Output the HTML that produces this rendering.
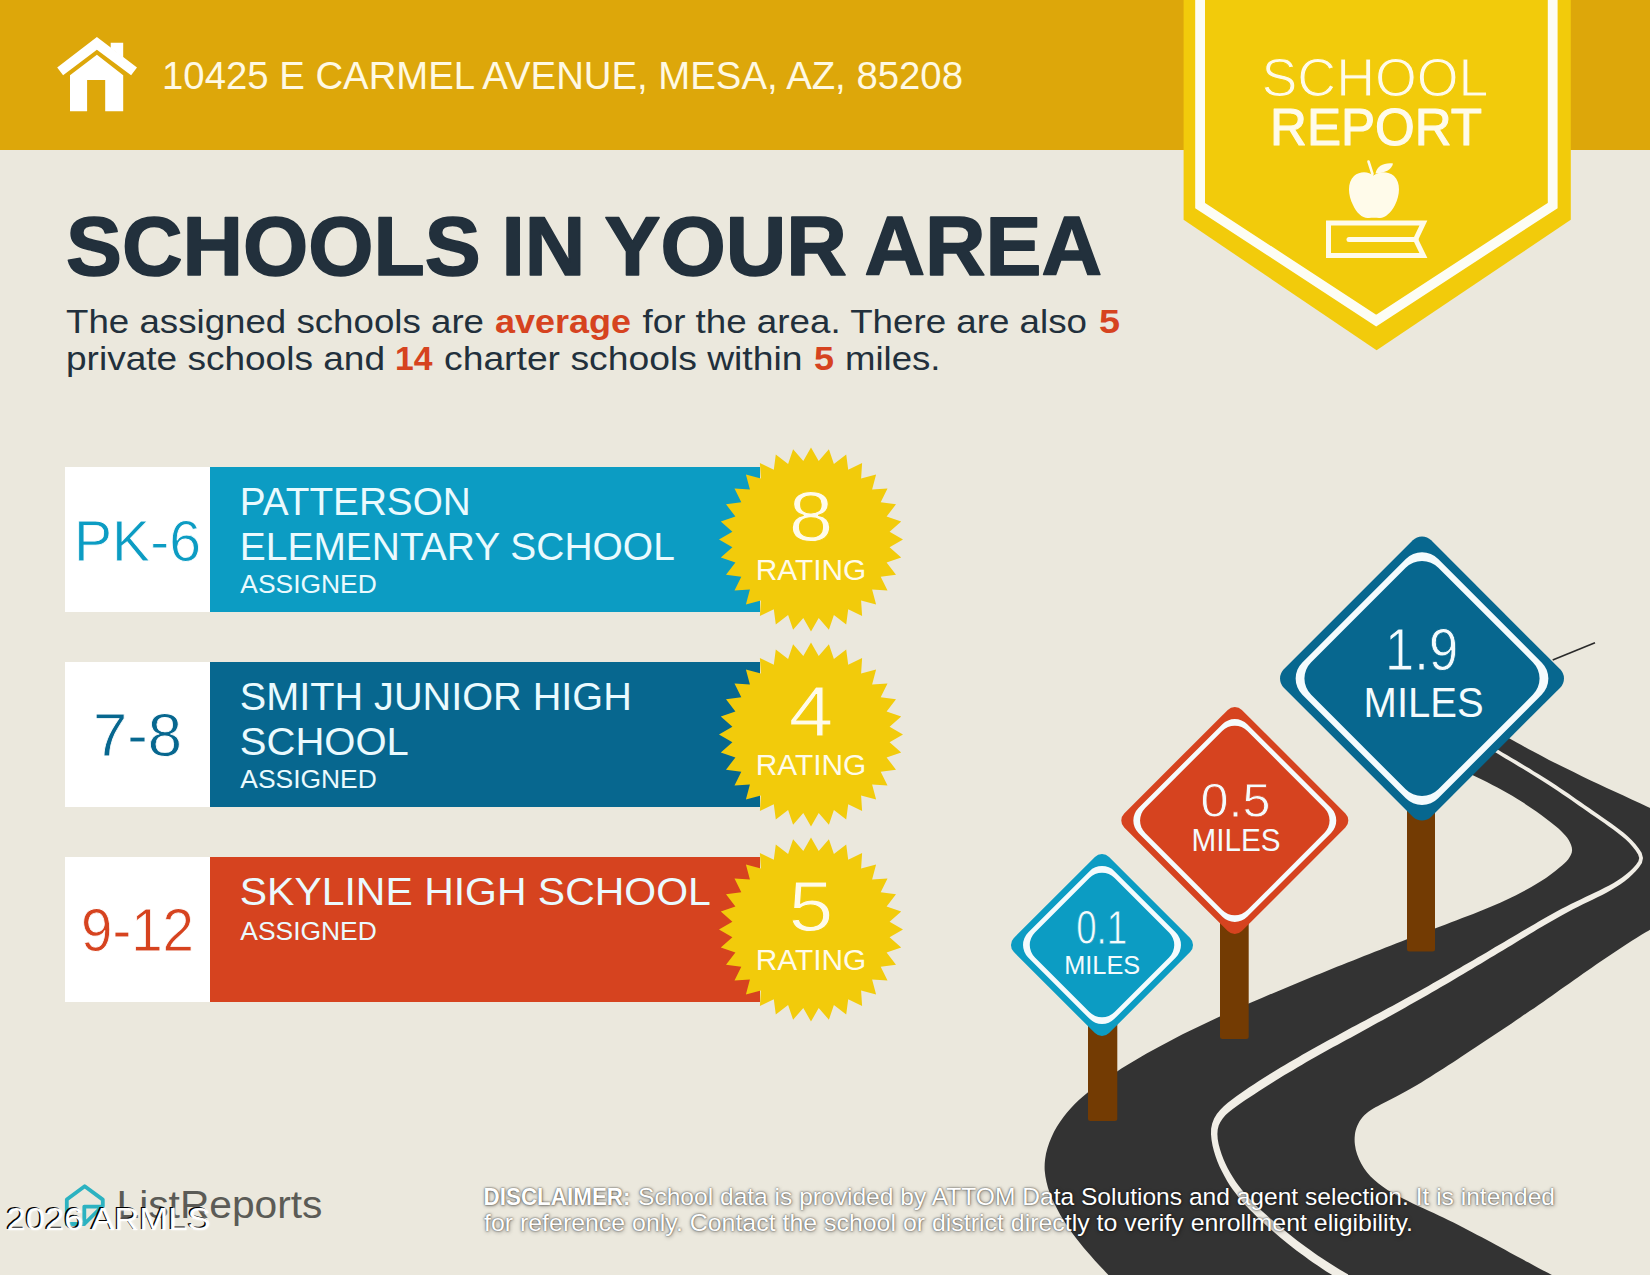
<!DOCTYPE html>
<html><head><meta charset="utf-8"><title>School Report</title>
<style>
html,body{margin:0;padding:0;background:#EBE8DD;}
body{width:1650px;height:1275px;overflow:hidden;}
svg{display:block;font-family:"Liberation Sans",sans-serif;}
</style></head><body>
<svg width="1650" height="1275" viewBox="0 0 1650 1275">
<rect width="1650" height="1275" fill="#EBE8DD"/>
<rect width="1650" height="150" fill="#DDA70A"/>
<g fill="#fff">
<polygon points="57.2,67.6 96.9,36.9 137,67.6 131.1,75.2 96.9,49.8 63.1,75.2"/>
<polygon points="110.7,42.8 123.2,42.8 123.2,58 110.7,48"/>
<polygon points="70,111.2 70,75.2 96.9,54.8 123.2,75.2 123.2,111.2 105.2,111.2 105.2,80 87.1,80 87.1,111.2"/>
</g>
<text x="162" y="88.7" font-size="38.5" fill="#FFF9E3" textLength="801" lengthAdjust="spacingAndGlyphs">10425 E CARMEL AVENUE, MESA, AZ, 85208</text>
<polygon points="1183.6,0 1570.8,0 1570.8,219.8 1376.6,350.2 1183.6,219.8" fill="#F2CB0B"/>
<polyline points="1200.1,-10 1200.1,205.5 1376.2,320.6 1552.7,205.5 1552.7,-10" fill="none" stroke="#FDFDF4" stroke-width="9.8" stroke-linejoin="miter"/>
<text x="1261.5" y="96" font-size="54" fill="#FFFBEA" stroke="#F2CB0B" stroke-width="1.1" textLength="227" lengthAdjust="spacingAndGlyphs">SCHOOL</text>
<text x="1270" y="145.2" font-size="51.5" fill="#FFFBEA" stroke="#FFFBEA" stroke-width="1.1" stroke-linejoin="round" textLength="212" lengthAdjust="spacingAndGlyphs">REPORT</text>
<g fill="none" stroke="#FFFBEA" stroke-width="5" stroke-linejoin="miter">
<path d="M1328.5 223 L1423.4 223 L1415.6 239.5 L1423.4 255.5 L1328.5 255.5 Z"/>
<path d="M1349 239.5 L1416 239.5" stroke-linecap="round"/>
</g>
<path d="M1373.5 175.5 C1378 171.5 1388 170.5 1394 176 C1401 183 1400 195 1395 205 C1391 213 1384 219 1379 218 C1376 217.5 1372 217.5 1369 218 C1363 219 1356.5 213 1353 205 C1348 195 1347 183 1354 176 C1360 170.5 1369 171.5 1373.5 175.5 Z" fill="#FFFBEA"/>
<path d="M1372.5 174 L1368.5 161.5" stroke="#FFFBEA" stroke-width="2.6" fill="none" stroke-linecap="round"/>
<path d="M1375.5 173.5 C1377 166 1384 162.5 1393 163.5 C1392 169 1386 173 1375.5 173.5 Z" fill="#FFFBEA"/>
<text x="66" y="274.6" font-size="84" font-weight="bold" fill="#22303C" stroke="#22303C" stroke-width="1.6" stroke-linejoin="round" style="word-spacing:-2.5px" textLength="1036" lengthAdjust="spacingAndGlyphs">SCHOOLS IN YOUR AREA</text>
<text x="66.0" y="332.5" font-size="33.5"  fill="#22303C" textLength="418.0" lengthAdjust="spacingAndGlyphs">The assigned schools are</text>
<text x="495.0" y="332.5" font-size="33.5" font-weight="bold" fill="#D6431F" textLength="136.0" lengthAdjust="spacingAndGlyphs">average</text>
<text x="642.5" y="332.5" font-size="33.5"  fill="#22303C" textLength="444.5" lengthAdjust="spacingAndGlyphs">for the area. There are also</text>
<text x="1099.0" y="332.5" font-size="33.5" font-weight="bold" fill="#D6431F" textLength="21.0" lengthAdjust="spacingAndGlyphs">5</text>
<text x="66.0" y="370.0" font-size="33.5"  fill="#22303C" textLength="319.0" lengthAdjust="spacingAndGlyphs">private schools and</text>
<text x="395.0" y="370.0" font-size="33.5" font-weight="bold" fill="#D6431F" textLength="37.5" lengthAdjust="spacingAndGlyphs">14</text>
<text x="444.0" y="370.0" font-size="33.5"  fill="#22303C" textLength="358.5" lengthAdjust="spacingAndGlyphs">charter schools within</text>
<text x="814.0" y="370.0" font-size="33.5" font-weight="bold" fill="#D6431F" textLength="20.0" lengthAdjust="spacingAndGlyphs">5</text>
<text x="845.0" y="370.0" font-size="33.5"  fill="#22303C" textLength="95.5" lengthAdjust="spacingAndGlyphs">miles.</text>
<rect x="65" y="467" width="145" height="145" fill="#fff"/>
<rect x="210" y="467" width="550" height="145" fill="#0C9CC3"/>
<text x="137.5" y="560.7" font-size="58" fill="#0C9CC3" stroke="#fff" stroke-width="0.8" text-anchor="middle" textLength="127" lengthAdjust="spacingAndGlyphs">PK-6</text>
<text x="239.8" y="515.1" font-size="39" fill="#EAFAFE" textLength="231" lengthAdjust="spacingAndGlyphs">PATTERSON</text>
<text x="239.8" y="560.1" font-size="39" fill="#EAFAFE" textLength="435" lengthAdjust="spacingAndGlyphs">ELEMENTARY SCHOOL</text>
<text x="240.3" y="592.5" font-size="26.2" fill="#EAFAFE" textLength="136.5" lengthAdjust="spacingAndGlyphs">ASSIGNED</text>
<polygon points="811.0,447.5 818.7,460.9 828.9,449.3 833.9,463.9 846.2,454.5 848.2,469.8 862.1,463.0 861.1,478.4 876.1,474.4 872.1,489.4 887.5,488.4 880.7,502.3 896.0,504.3 886.6,516.6 901.2,521.6 889.6,531.8 903.0,539.5 889.6,547.2 901.2,557.4 886.6,562.4 896.0,574.7 880.7,576.7 887.5,590.6 872.1,589.6 876.1,604.6 861.1,600.6 862.1,616.0 848.2,609.2 846.2,624.5 833.9,615.1 828.9,629.7 818.7,618.1 811.0,631.5 803.3,618.1 793.1,629.7 788.1,615.1 775.8,624.5 773.8,609.2 759.9,616.0 760.9,600.6 745.9,604.6 749.9,589.6 734.5,590.6 741.3,576.7 726.0,574.7 735.4,562.4 720.8,557.4 732.4,547.2 719.0,539.5 732.4,531.8 720.8,521.6 735.4,516.6 726.0,504.3 741.3,502.3 734.5,488.4 749.9,489.4 745.9,474.4 760.9,478.4 759.9,463.0 773.8,469.8 775.8,454.5 788.1,463.9 793.1,449.3 803.3,460.9" fill="#F2CB0B"/>
<text x="811" y="540.8" font-size="70" fill="#FFFBEA" stroke="#F2CB0B" stroke-width="1.0" text-anchor="middle" textLength="44.5" lengthAdjust="spacingAndGlyphs">8</text>
<text x="811" y="579.6" font-size="29.5" fill="#FFFBEA" text-anchor="middle" textLength="110.5" lengthAdjust="spacingAndGlyphs">RATING</text>
<rect x="65" y="662" width="145" height="145" fill="#fff"/>
<rect x="210" y="662" width="550" height="145" fill="#07678F"/>
<text x="137.5" y="755.7" font-size="60.5" fill="#07678F" stroke="#fff" stroke-width="0.8" text-anchor="middle" textLength="89" lengthAdjust="spacingAndGlyphs">7-8</text>
<text x="239.8" y="710.1" font-size="39" fill="#EAFAFE" textLength="392" lengthAdjust="spacingAndGlyphs">SMITH JUNIOR HIGH</text>
<text x="239.8" y="755.1" font-size="39" fill="#EAFAFE" textLength="169" lengthAdjust="spacingAndGlyphs">SCHOOL</text>
<text x="240.3" y="787.5" font-size="26.2" fill="#EAFAFE" textLength="136.5" lengthAdjust="spacingAndGlyphs">ASSIGNED</text>
<polygon points="811.0,642.5 818.7,655.9 828.9,644.3 833.9,658.9 846.2,649.5 848.2,664.8 862.1,658.0 861.1,673.4 876.1,669.4 872.1,684.4 887.5,683.4 880.7,697.3 896.0,699.3 886.6,711.6 901.2,716.6 889.6,726.8 903.0,734.5 889.6,742.2 901.2,752.4 886.6,757.4 896.0,769.7 880.7,771.7 887.5,785.6 872.1,784.6 876.1,799.6 861.1,795.6 862.1,811.0 848.2,804.2 846.2,819.5 833.9,810.1 828.9,824.7 818.7,813.1 811.0,826.5 803.3,813.1 793.1,824.7 788.1,810.1 775.8,819.5 773.8,804.2 759.9,811.0 760.9,795.6 745.9,799.6 749.9,784.6 734.5,785.6 741.3,771.7 726.0,769.7 735.4,757.4 720.8,752.4 732.4,742.2 719.0,734.5 732.4,726.8 720.8,716.6 735.4,711.6 726.0,699.3 741.3,697.3 734.5,683.4 749.9,684.4 745.9,669.4 760.9,673.4 759.9,658.0 773.8,664.8 775.8,649.5 788.1,658.9 793.1,644.3 803.3,655.9" fill="#F2CB0B"/>
<text x="811" y="735.8" font-size="70" fill="#FFFBEA" stroke="#F2CB0B" stroke-width="1.0" text-anchor="middle" textLength="44.5" lengthAdjust="spacingAndGlyphs">4</text>
<text x="811" y="774.6" font-size="29.5" fill="#FFFBEA" text-anchor="middle" textLength="110.5" lengthAdjust="spacingAndGlyphs">RATING</text>
<rect x="65" y="857" width="145" height="145" fill="#fff"/>
<rect x="210" y="857" width="550" height="145" fill="#D6431F"/>
<text x="137.5" y="950.7" font-size="60.5" fill="#D6431F" stroke="#fff" stroke-width="0.8" text-anchor="middle" textLength="113" lengthAdjust="spacingAndGlyphs">9-12</text>
<text x="239.8" y="905.1" font-size="39" fill="#EAFAFE" textLength="471" lengthAdjust="spacingAndGlyphs">SKYLINE HIGH SCHOOL</text>
<text x="240.3" y="939.5" font-size="26.2" fill="#EAFAFE" textLength="136.5" lengthAdjust="spacingAndGlyphs">ASSIGNED</text>
<polygon points="811.0,837.5 818.7,850.9 828.9,839.3 833.9,853.9 846.2,844.5 848.2,859.8 862.1,853.0 861.1,868.4 876.1,864.4 872.1,879.4 887.5,878.4 880.7,892.3 896.0,894.3 886.6,906.6 901.2,911.6 889.6,921.8 903.0,929.5 889.6,937.2 901.2,947.4 886.6,952.4 896.0,964.7 880.7,966.7 887.5,980.6 872.1,979.6 876.1,994.6 861.1,990.6 862.1,1006.0 848.2,999.2 846.2,1014.5 833.9,1005.1 828.9,1019.7 818.7,1008.1 811.0,1021.5 803.3,1008.1 793.1,1019.7 788.1,1005.1 775.8,1014.5 773.8,999.2 759.9,1006.0 760.9,990.6 745.9,994.6 749.9,979.6 734.5,980.6 741.3,966.7 726.0,964.7 735.4,952.4 720.8,947.4 732.4,937.2 719.0,929.5 732.4,921.8 720.8,911.6 735.4,906.6 726.0,894.3 741.3,892.3 734.5,878.4 749.9,879.4 745.9,864.4 760.9,868.4 759.9,853.0 773.8,859.8 775.8,844.5 788.1,853.9 793.1,839.3 803.3,850.9" fill="#F2CB0B"/>
<text x="811" y="930.8" font-size="70" fill="#FFFBEA" stroke="#F2CB0B" stroke-width="1.0" text-anchor="middle" textLength="44.5" lengthAdjust="spacingAndGlyphs">5</text>
<text x="811" y="969.6" font-size="29.5" fill="#FFFBEA" text-anchor="middle" textLength="110.5" lengthAdjust="spacingAndGlyphs">RATING</text>
<path d="M1111.2 1278.0C1109.9 1276.5 1105.7 1272.2 1103.0 1269.3C1100.3 1266.4 1097.6 1263.6 1095.0 1260.7C1092.4 1257.8 1089.9 1255.0 1087.4 1252.1C1084.9 1249.2 1082.4 1246.3 1080.1 1243.3C1077.7 1240.3 1075.4 1237.3 1073.1 1234.2C1070.8 1231.1 1068.6 1227.9 1066.5 1224.7C1064.3 1221.4 1062.2 1218.1 1060.2 1214.7C1058.2 1211.2 1056.3 1207.7 1054.6 1204.1C1052.8 1200.6 1051.2 1196.9 1049.8 1193.2C1048.5 1189.5 1047.3 1185.8 1046.5 1182.0C1045.6 1178.2 1045.0 1174.4 1044.7 1170.6C1044.5 1166.8 1044.6 1163.0 1045.1 1159.2C1045.5 1155.4 1046.4 1151.6 1047.5 1147.9C1048.5 1144.1 1050.0 1140.5 1051.6 1136.9C1053.2 1133.4 1055.0 1129.9 1057.0 1126.6C1059.0 1123.3 1061.2 1120.1 1063.5 1117.1C1065.8 1114.0 1068.2 1111.1 1070.8 1108.2C1073.4 1105.4 1076.1 1102.7 1078.9 1100.0C1081.8 1097.4 1084.7 1094.8 1087.7 1092.4C1090.7 1089.9 1093.8 1087.5 1097.0 1085.2C1100.1 1082.8 1103.3 1080.6 1106.6 1078.4C1109.8 1076.1 1113.1 1074.0 1116.4 1071.9C1119.7 1069.7 1123.1 1067.6 1126.4 1065.6C1129.7 1063.5 1133.1 1061.5 1136.5 1059.5C1139.8 1057.5 1143.2 1055.6 1146.6 1053.6C1150.0 1051.7 1153.4 1049.8 1156.8 1047.9C1160.2 1046.0 1163.6 1044.2 1167.1 1042.4C1170.5 1040.6 1174.0 1038.8 1177.4 1037.0C1180.9 1035.2 1184.3 1033.5 1187.8 1031.8C1191.3 1030.0 1194.8 1028.3 1198.3 1026.7C1201.8 1025.0 1205.3 1023.3 1208.8 1021.7C1212.3 1020.0 1215.8 1018.4 1219.3 1016.8C1222.8 1015.2 1226.4 1013.6 1229.9 1012.0C1233.4 1010.4 1237.0 1008.8 1240.5 1007.2C1244.0 1005.7 1247.6 1004.1 1251.1 1002.6C1254.7 1001.0 1258.2 999.5 1261.8 998.0C1265.3 996.4 1268.9 994.9 1272.5 993.4C1276.0 991.9 1279.6 990.4 1283.2 988.9C1286.7 987.4 1290.3 985.9 1293.9 984.4C1297.5 982.9 1301.0 981.4 1304.6 980.0C1308.2 978.5 1311.8 977.0 1315.4 975.6C1319.0 974.1 1322.5 972.6 1326.1 971.2C1329.7 969.7 1333.3 968.3 1336.9 966.8C1340.5 965.4 1344.1 964.0 1347.7 962.5C1351.3 961.1 1354.9 959.7 1358.6 958.2C1362.2 956.8 1365.8 955.4 1369.4 954.0C1373.0 952.5 1376.6 951.1 1380.3 949.7C1383.9 948.3 1387.5 946.9 1391.1 945.5C1394.8 944.1 1398.4 942.7 1402.0 941.3C1405.7 939.8 1409.3 938.4 1412.9 937.0C1416.6 935.6 1420.2 934.2 1423.8 932.8C1427.5 931.4 1431.1 930.0 1434.8 928.6C1438.4 927.2 1442.1 925.8 1445.7 924.4C1449.4 923.0 1453.0 921.6 1456.7 920.2C1460.4 918.8 1464.0 917.4 1467.7 916.0C1471.3 914.6 1475.0 913.2 1478.6 911.7C1482.3 910.3 1485.9 908.8 1489.5 907.3C1493.1 905.8 1496.7 904.3 1500.2 902.7C1503.8 901.1 1507.3 899.5 1510.8 897.8C1514.3 896.1 1517.8 894.4 1521.2 892.6C1524.6 890.8 1528.0 889.0 1531.3 887.0C1534.7 885.1 1537.9 883.1 1541.2 881.0C1544.4 878.9 1547.6 876.7 1550.7 874.4C1553.8 872.2 1556.9 869.8 1559.8 867.3C1562.7 864.8 1566.0 862.3 1568.1 859.5C1570.1 856.6 1572.0 853.5 1572.1 850.3C1572.2 847.0 1570.6 843.2 1568.7 839.9C1566.8 836.7 1563.7 833.6 1560.8 830.8C1557.9 827.9 1554.3 825.2 1551.0 822.6C1547.8 820.0 1544.5 817.5 1541.2 815.1C1538.0 812.7 1534.8 810.4 1531.5 808.2C1528.3 806.0 1525.1 803.9 1521.9 801.8C1518.6 799.8 1515.4 797.8 1512.2 795.8C1508.9 793.9 1505.7 792.0 1502.4 790.2C1499.1 788.4 1495.8 786.6 1492.4 784.9C1489.1 783.1 1485.7 781.4 1482.3 779.8C1478.8 778.1 1475.3 776.4 1471.8 774.8C1468.3 773.1 1464.7 771.5 1461.0 769.8C1457.3 768.2 1451.6 765.7 1449.8 764.9L1485.1 723.7C1487.8 725.3 1495.6 730.2 1500.8 733.3C1506.1 736.5 1511.4 739.5 1516.7 742.5C1522.1 745.5 1527.4 748.5 1532.8 751.3C1538.2 754.2 1543.6 757.1 1549.0 759.9C1554.5 762.7 1559.9 765.4 1565.4 768.1C1570.9 770.8 1576.4 773.5 1581.9 776.2C1587.4 778.8 1592.9 781.4 1598.4 784.0C1604.0 786.6 1609.5 789.2 1615.1 791.8C1620.6 794.4 1626.2 796.9 1631.7 799.5C1637.3 802.1 1642.8 804.6 1648.4 807.2C1653.9 809.8 1662.3 813.6 1665.0 814.9L1665.1 921.0C1663.5 921.9 1658.7 924.6 1655.6 926.5C1652.4 928.3 1649.3 930.2 1646.1 932.1C1643.0 933.9 1639.9 935.8 1636.8 937.8C1633.8 939.7 1630.7 941.6 1627.7 943.6C1624.6 945.5 1621.6 947.5 1618.6 949.5C1615.6 951.5 1612.6 953.5 1609.6 955.5C1606.6 957.5 1603.6 959.5 1600.6 961.5C1597.7 963.6 1594.7 965.6 1591.7 967.7C1588.8 969.7 1585.8 971.8 1582.9 973.8C1579.9 975.9 1577.0 978.0 1574.1 980.0C1571.1 982.1 1568.2 984.2 1565.2 986.3C1562.3 988.3 1559.3 990.4 1556.4 992.5C1553.4 994.6 1550.5 996.7 1547.5 998.7C1544.6 1000.8 1541.6 1002.9 1538.6 1004.9C1535.6 1007.0 1532.6 1009.1 1529.6 1011.1C1526.6 1013.2 1523.6 1015.3 1520.6 1017.3C1517.6 1019.3 1514.6 1021.4 1511.6 1023.4C1508.6 1025.5 1505.5 1027.5 1502.5 1029.5C1499.5 1031.5 1496.4 1033.6 1493.4 1035.6C1490.4 1037.6 1487.3 1039.6 1484.3 1041.6C1481.3 1043.6 1478.3 1045.6 1475.3 1047.6C1472.2 1049.6 1469.2 1051.5 1466.2 1053.5C1463.2 1055.5 1460.2 1057.5 1457.3 1059.4C1454.3 1061.4 1451.3 1063.3 1448.3 1065.3C1445.4 1067.2 1442.4 1069.2 1439.4 1071.1C1436.5 1073.0 1433.5 1074.9 1430.5 1076.8C1427.4 1078.7 1424.4 1080.6 1421.3 1082.5C1418.2 1084.4 1415.1 1086.3 1411.8 1088.1C1408.6 1090.0 1405.3 1091.8 1401.9 1093.6C1398.6 1095.4 1395.1 1097.2 1391.5 1099.0C1388.0 1100.8 1384.2 1102.5 1380.7 1104.4C1377.2 1106.3 1373.6 1108.1 1370.6 1110.3C1367.6 1112.4 1364.8 1114.7 1362.5 1117.2C1360.3 1119.8 1358.6 1122.6 1357.4 1125.5C1356.1 1128.4 1355.3 1131.6 1354.9 1134.7C1354.5 1137.9 1354.5 1141.2 1354.9 1144.5C1355.3 1147.8 1356.0 1151.1 1357.1 1154.3C1358.2 1157.5 1359.6 1160.7 1361.3 1163.8C1362.9 1166.8 1364.9 1169.7 1367.1 1172.4C1369.3 1175.1 1371.8 1177.6 1374.4 1180.0C1377.1 1182.4 1379.9 1184.6 1382.9 1186.7C1385.9 1188.9 1389.1 1190.9 1392.3 1192.8C1395.6 1194.7 1398.9 1196.5 1402.4 1198.3C1405.8 1200.0 1409.3 1201.7 1412.8 1203.4C1416.3 1205.0 1419.8 1206.6 1423.3 1208.2C1426.8 1209.8 1430.3 1211.4 1433.7 1213.0C1437.1 1214.6 1440.4 1216.2 1443.7 1217.8C1447.0 1219.4 1450.3 1221.0 1453.5 1222.6C1456.8 1224.2 1460.0 1225.9 1463.1 1227.5C1466.3 1229.1 1469.4 1230.8 1472.6 1232.4C1475.7 1234.0 1478.8 1235.7 1481.9 1237.3C1485.0 1239.0 1488.1 1240.6 1491.2 1242.3C1494.2 1244.0 1497.3 1245.6 1500.4 1247.3C1503.5 1249.0 1506.6 1250.7 1509.7 1252.4C1512.8 1254.1 1515.9 1255.8 1519.1 1257.5C1522.3 1259.2 1525.4 1260.9 1528.6 1262.6C1531.8 1264.4 1535.1 1266.1 1538.4 1267.9C1541.6 1269.6 1544.9 1271.4 1548.3 1273.1C1551.7 1274.9 1556.9 1277.6 1558.6 1278.4Z" fill="#333333"/>
<path d="M1479.1 742.6L1483.4 745.2L1487.8 747.8L1492.2 750.4L1496.6 753.1L1501.0 755.7L1505.4 758.4L1509.9 761.0L1514.4 763.7L1518.8 766.4L1523.3 769.0L1527.7 771.7L1532.1 774.4L1536.5 777.2L1540.9 779.9L1545.2 782.7L1549.5 785.4L1553.7 788.2L1557.9 791.0L1562.1 793.9L1566.3 796.7L1570.4 799.6L1574.6 802.4L1578.7 805.4L1582.9 808.3L1587.1 811.2L1591.3 814.2L1595.5 817.1L1599.8 820.1L1604.2 823.1L1608.5 826.2L1612.9 829.2L1617.1 832.4L1621.2 835.7L1625.2 839.1L1628.9 842.6L1632.4 846.4L1635.6 850.4L1638.1 854.4L1639.2 858.0L1638.4 861.3L1636.0 864.8L1632.9 868.3L1629.5 871.5L1625.9 874.6L1622.0 877.5L1617.9 880.3L1613.6 882.9L1609.1 885.4L1604.5 887.8L1599.8 890.2L1595.0 892.5L1590.2 894.8L1585.4 897.1L1580.5 899.4L1575.7 901.7L1570.9 904.0L1566.2 906.4L1561.6 908.8L1557.0 911.3L1552.5 913.7L1548.0 916.2L1543.6 918.8L1539.2 921.3L1534.8 923.9L1530.4 926.4L1526.1 929.0L1521.7 931.6L1517.3 934.2L1513.0 936.8L1508.6 939.3L1504.2 941.9L1499.8 944.5L1495.3 947.1L1490.9 949.8L1486.5 952.4L1482.1 955.0L1477.6 957.6L1473.2 960.2L1468.7 962.7L1464.2 965.3L1459.8 967.9L1455.3 970.5L1450.8 973.1L1446.3 975.7L1441.9 978.2L1437.4 980.8L1432.9 983.3L1428.4 985.9L1423.9 988.4L1419.4 990.9L1414.9 993.5L1410.3 996.0L1405.8 998.5L1401.3 1000.9L1396.8 1003.4L1392.3 1005.9L1387.8 1008.3L1383.3 1010.8L1378.8 1013.2L1374.2 1015.6L1369.7 1018.0L1365.2 1020.4L1360.7 1022.8L1356.2 1025.2L1351.7 1027.6L1347.2 1030.1L1342.7 1032.5L1338.2 1034.9L1333.7 1037.4L1329.2 1039.8L1324.7 1042.3L1320.2 1044.8L1315.7 1047.2L1311.2 1049.8L1306.8 1052.3L1302.3 1054.8L1297.9 1057.4L1293.4 1059.9L1289.0 1062.5L1284.5 1065.2L1280.1 1067.8L1275.7 1070.5L1271.2 1073.2L1266.8 1076.0L1262.4 1078.7L1258.1 1081.5L1253.7 1084.4L1249.3 1087.3L1245.0 1090.3L1240.7 1093.3L1236.4 1096.3L1232.1 1099.4L1227.8 1102.7L1223.8 1106.2L1220.1 1110.0L1216.8 1114.1L1214.1 1118.6L1212.2 1123.5L1211.1 1128.7L1211.0 1134.2L1211.5 1139.8L1212.5 1145.4L1213.9 1151.0L1215.6 1156.4L1217.5 1161.7L1219.6 1166.7L1222.0 1171.6L1224.5 1176.3L1227.1 1180.9L1229.9 1185.4L1232.9 1189.7L1236.0 1193.8L1239.2 1197.9L1242.6 1201.9L1246.0 1205.7L1249.6 1209.5L1253.2 1213.1L1256.9 1216.7L1260.7 1220.3L1264.5 1223.8L1268.3 1227.2L1272.2 1230.6L1276.2 1234.0L1280.2 1237.4L1284.2 1240.7L1288.2 1244.0L1292.3 1247.2L1296.4 1250.4L1300.6 1253.5L1304.8 1256.6L1309.0 1259.7L1313.3 1262.7L1317.6 1265.6L1321.9 1268.5L1326.3 1271.4L1330.6 1274.1L1335.1 1276.8L1339.5 1279.5L1343.9 1282.1L1348.3 1274.4L1343.9 1271.9L1339.6 1269.4L1335.2 1266.7L1330.9 1264.1L1326.6 1261.3L1322.4 1258.5L1318.1 1255.7L1313.9 1252.8L1309.8 1249.8L1305.6 1246.8L1301.5 1243.7L1297.4 1240.7L1293.3 1237.5L1289.3 1234.3L1285.3 1231.1L1281.3 1227.9L1277.4 1224.6L1273.5 1221.3L1269.7 1217.9L1265.9 1214.6L1262.2 1211.2L1258.5 1207.7L1254.9 1204.2L1251.4 1200.6L1248.0 1197.0L1244.7 1193.3L1241.6 1189.5L1238.5 1185.5L1235.6 1181.5L1232.9 1177.3L1230.3 1173.0L1227.8 1168.6L1225.6 1164.0L1223.5 1159.3L1221.6 1154.3L1220.0 1149.2L1218.6 1144.1L1217.7 1139.0L1217.4 1134.1L1217.7 1129.6L1218.7 1125.5L1220.4 1121.9L1222.7 1118.4L1225.6 1115.1L1229.0 1112.0L1232.8 1109.0L1236.9 1106.0L1241.1 1103.0L1245.4 1100.1L1249.7 1097.2L1254.0 1094.4L1258.4 1091.6L1262.7 1088.7L1267.0 1086.0L1271.4 1083.2L1275.7 1080.5L1280.1 1077.8L1284.5 1075.1L1288.9 1072.5L1293.3 1069.9L1297.7 1067.3L1302.1 1064.7L1306.5 1062.1L1310.9 1059.6L1315.4 1057.1L1319.8 1054.6L1324.3 1052.1L1328.7 1049.6L1333.2 1047.1L1337.7 1044.7L1342.1 1042.2L1346.6 1039.8L1351.1 1037.4L1355.6 1034.9L1360.1 1032.4L1364.6 1030.0L1369.1 1027.5L1373.5 1025.1L1378.0 1022.6L1382.5 1020.2L1387.0 1017.7L1391.5 1015.2L1396.0 1012.7L1400.5 1010.2L1405.0 1007.7L1409.5 1005.1L1414.0 1002.6L1418.5 1000.0L1423.0 997.4L1427.5 994.9L1432.0 992.3L1436.5 989.7L1441.0 987.1L1445.5 984.5L1449.9 981.9L1454.4 979.2L1458.9 976.6L1463.3 974.0L1467.8 971.3L1472.2 968.7L1476.6 966.1L1481.1 963.4L1485.5 960.8L1489.9 958.1L1494.3 955.5L1498.7 952.8L1503.1 950.2L1507.5 947.5L1511.9 944.9L1516.2 942.2L1520.6 939.6L1524.9 937.0L1529.3 934.3L1533.6 931.7L1537.9 929.1L1542.3 926.5L1546.6 923.9L1551.0 921.4L1555.4 918.9L1559.8 916.4L1564.3 913.9L1568.9 911.5L1573.5 909.0L1578.1 906.7L1582.9 904.3L1587.7 902.0L1592.5 899.7L1597.4 897.3L1602.2 894.9L1606.9 892.4L1611.6 889.8L1616.1 887.1L1620.5 884.2L1624.7 881.2L1628.7 878.0L1632.4 874.6L1635.9 871.1L1639.1 867.2L1641.9 862.9L1643.0 857.9L1641.6 852.8L1638.6 848.2L1635.3 843.9L1631.6 840.0L1627.7 836.3L1623.7 832.7L1619.4 829.4L1615.1 826.2L1610.7 823.1L1606.3 820.0L1602.0 817.0L1597.7 814.0L1593.4 811.1L1589.2 808.1L1585.0 805.2L1580.9 802.3L1576.7 799.4L1572.5 796.5L1568.4 793.6L1564.2 790.8L1560.0 788.0L1555.7 785.1L1551.5 782.3L1547.2 779.6L1542.8 776.8L1538.4 774.1L1534.0 771.4L1529.6 768.6L1525.1 766.0L1520.7 763.3L1516.2 760.6L1511.7 758.0L1507.3 755.3L1502.8 752.7L1498.4 750.0L1494.0 747.4L1489.6 744.8L1485.3 742.2L1480.9 739.6Z" fill="#F1EEE6"/>
<path d="M1552.7 660 L1595 642.7" stroke="#2a2a2a" stroke-width="1.6" fill="none"/>
<rect x="1407.0" y="678.5" width="28.0" height="273.1" rx="2.5" fill="#733B03"/>
<g transform="translate(1422.0 678.5) rotate(45)">
<rect x="-104.2" y="-104.2" width="208.4" height="208.4" rx="13.0" fill="#07678F"/>
<rect x="-96.0" y="-96.0" width="192.1" height="192.1" rx="22.9" fill="#F4FBFD"/>
<rect x="-89.9" y="-89.9" width="179.8" height="179.8" rx="23.1" fill="#07678F"/>
</g>
<text x="1421.6" y="670.2" font-size="59.0" fill="#F4FBFD" stroke="#07678F" stroke-width="0.8" text-anchor="middle" textLength="73.0" lengthAdjust="spacingAndGlyphs">1.9</text>
<text x="1423.6" y="716.8" font-size="42.4" fill="#F4FBFD" text-anchor="middle" textLength="120.0" lengthAdjust="spacingAndGlyphs">MILES</text>
<rect x="1220.0" y="820.5" width="28.7" height="218.5" rx="2.5" fill="#733B03"/>
<g transform="translate(1234.8 820.5) rotate(45)">
<rect x="-83.2" y="-83.2" width="166.4" height="166.4" rx="10.0" fill="#D6431F"/>
<rect x="-76.9" y="-76.9" width="153.8" height="153.8" rx="17.6" fill="#F4FBFD"/>
<rect x="-72.2" y="-72.2" width="144.4" height="144.4" rx="17.8" fill="#D6431F"/>
</g>
<text x="1235.6" y="817.3" font-size="48.7" fill="#F4FBFD" stroke="#D6431F" stroke-width="0.8" text-anchor="middle" textLength="70.0" lengthAdjust="spacingAndGlyphs">0.5</text>
<text x="1236.1" y="851.2" font-size="31.3" fill="#F4FBFD" text-anchor="middle" textLength="89.0" lengthAdjust="spacingAndGlyphs">MILES</text>
<rect x="1088.0" y="945.0" width="29.3" height="176.0" rx="2.5" fill="#733B03"/>
<g transform="translate(1102.0 945.0) rotate(45)">
<rect x="-67.3" y="-67.3" width="134.6" height="134.6" rx="10.0" fill="#0C9CC3"/>
<rect x="-61.0" y="-61.0" width="122.0" height="122.0" rx="17.6" fill="#F4FBFD"/>
<rect x="-56.3" y="-56.3" width="112.6" height="112.6" rx="17.8" fill="#0C9CC3"/>
</g>
<text x="1101.7" y="944.0" font-size="48.5" fill="#F4FBFD" stroke="#0C9CC3" stroke-width="0.8" text-anchor="middle" textLength="51.0" lengthAdjust="spacingAndGlyphs">0.1</text>
<text x="1102.2" y="973.7" font-size="26.2" fill="#F4FBFD" text-anchor="middle" textLength="76.0" lengthAdjust="spacingAndGlyphs">MILES</text>
<g>
<path d="M84.3 1224 L66.8 1224 L66.8 1199.6 L84.7 1186.2 L102.8 1199.6 L102.8 1206.6 L84.3 1206.6 L84.3 1224 L100.5 1208" fill="none" stroke="#2CB2C1" stroke-width="3.8" stroke-linejoin="round" stroke-linecap="round"/>
<text x="116.5" y="1218.2" font-size="38" fill="#5b5b56" textLength="206" lengthAdjust="spacingAndGlyphs">ListReports</text>
</g>
<text x="6.5" y="1230.2" font-size="32" fill="#fff" textLength="204" lengthAdjust="spacingAndGlyphs" style="text-shadow:-1.3px -1.3px 0 #000, 0 0 2px #fff">2026 ARMLS</text>
<g font-size="23.7" fill="#fff" style="text-shadow:0 0 2px rgba(0,0,0,0.75), 0.5px 0.5px 4px rgba(0,0,0,0.4)">
<text x="483.5" y="1205"><tspan font-weight="bold" textLength="147" lengthAdjust="spacingAndGlyphs">DISCLAIMER:</tspan></text>
<text x="638" y="1205" textLength="917" lengthAdjust="spacingAndGlyphs">School data is provided by ATTOM Data Solutions and agent selection. It is intended</text>
<text x="484" y="1231" textLength="929" lengthAdjust="spacingAndGlyphs">for reference only. Contact the school or district directly to verify enrollment eligibility.</text>
</g>
</svg>
</body></html>
